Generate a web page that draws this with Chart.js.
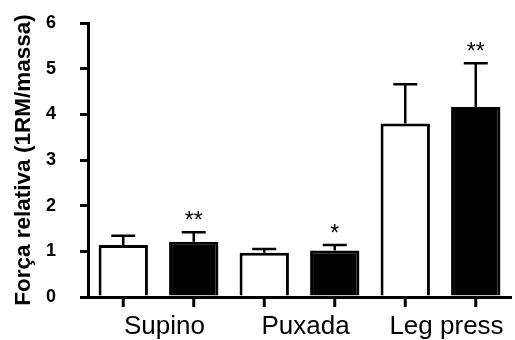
<!DOCTYPE html>
<html>
<head>
<meta charset="utf-8">
<script src="https://cdn.jsdelivr.net/npm/chart.js@4/dist/chart.umd.min.js"></script>
<style>
  html, body { margin: 0; padding: 0; background: #fff; }
  #wrap { width: 515px; height: 340px; }
</style>
</head>
<body>
<div id="wrap"><canvas id="chart" width="515" height="340"></canvas></div>
<script>
// Data
const categories = ['Supino', 'Puxada', 'Leg press'];
const preMean = [1.14, 0.97, 3.80];
const preErr = [0.20, 0.08, 0.86];
const postMean = [1.21, 1.02, 4.16];
const postErr = [0.21, 0.12, 0.96];
const postSig = ['**', '*', '**'];
const yMin = 0, yMax = 6, yStep = 1;

const FONT = "'Liberation Sans', Arial, sans-serif";

// Error bars (upward only), asterisks and x tick marks at each bar
const extras = {
    id: 'extras',
    afterDatasetsDraw(chart) {
        const ctx = chart.ctx;
        const y = chart.scales.y;
        chart.data.datasets.forEach((ds, i) => {
            const meta = chart.getDatasetMeta(i);
            meta.data.forEach((bar, j) => {
                const top = y.getPixelForValue(ds.data[j] + ds.errors[j]);
                ctx.save();
                ctx.strokeStyle = '#000';
                ctx.lineWidth = 2.5;
                ctx.beginPath();
                ctx.moveTo(bar.x, bar.y);
                ctx.lineTo(bar.x, top);
                ctx.moveTo(bar.x - 12, top);
                ctx.lineTo(bar.x + 12, top);
                ctx.stroke();

                // x tick mark under each bar
                ctx.lineWidth = 3;
                ctx.beginPath();
                ctx.moveTo(bar.x, y.bottom);
                ctx.lineTo(bar.x, y.bottom + 10);
                ctx.stroke();

                const sig = ds.sig ? ds.sig[j] : '';
                if (sig) {
                    ctx.fillStyle = '#000';
                    ctx.font = '23px ' + FONT;
                    ctx.textAlign = 'center';
                    ctx.textBaseline = 'alphabetic';
                    ctx.fillText(sig, bar.x, top - 4);
                }
                ctx.restore();
            });
        });
    }
};

document.addEventListener('DOMContentLoaded', () => {
    const ctx = document.getElementById('chart').getContext('2d');
    new Chart(ctx, {
        type: 'bar',
        data: {
            labels: categories,
            datasets: [
                {
                    label: 'Pré',
                    data: preMean,
                    errors: preErr,
                    backgroundColor: '#fff',
                    borderColor: '#000',
                    borderWidth: 3,
                    borderSkipped: 'start',
                    barPercentage: 0.7,
                    categoryPercentage: 1.0,
                },
                {
                    label: 'Pós',
                    data: postMean,
                    errors: postErr,
                    sig: postSig,
                    backgroundColor: '#000',
                    borderColor: '#000',
                    borderWidth: 3,
                    borderSkipped: 'start',
                    barPercentage: 0.7,
                    categoryPercentage: 1.0,
                },
            ],
        },
        options: {
            responsive: false,
            animation: false,
            layout: { padding: { top: 23, right: 4, left: 0, bottom: 0 } },
            plugins: {
                legend: { display: false },
                tooltip: { enabled: false },
            },
            scales: {
                x: {
                    grid: { display: false, drawTicks: false },
                    border: { display: true, color: '#000', width: 3 },
                    ticks: {
                        color: '#000',
                        padding: 14,
                        labelOffset: 6,
                        font: { family: FONT, size: 26 },
                    },
                    afterFit(scale) { scale.height = 43; },
                },
                y: {
                    min: yMin,
                    max: yMax,
                    grid: {
                        display: true,
                        drawOnChartArea: false,
                        drawTicks: true,
                        tickLength: 8,
                        color: '#000',
                        lineWidth: 3,
                    },
                    border: { display: true, color: '#000', width: 3 },
                    ticks: {
                        stepSize: yStep,
                        color: '#000',
                        padding: 24,
                        font: { family: FONT, size: 18, weight: 'bold' },
                    },
                    title: {
                        display: true,
                        text: 'Força relativa (1RM/massa)',
                        color: '#000',
                        padding: { top: 10, bottom: 0 },
                        font: { family: FONT, size: 22.5, weight: 'bold' },
                    },
                    afterFit(scale) {
                        scale.width = 88;
                        // keep the plot top where the layout padding puts it
                        scale.paddingTop = 0;
                        scale.paddingBottom = 0;
                    },
                },
            },
        },
        plugins: [extras],
    });
});
</script>
</body>
</html>
